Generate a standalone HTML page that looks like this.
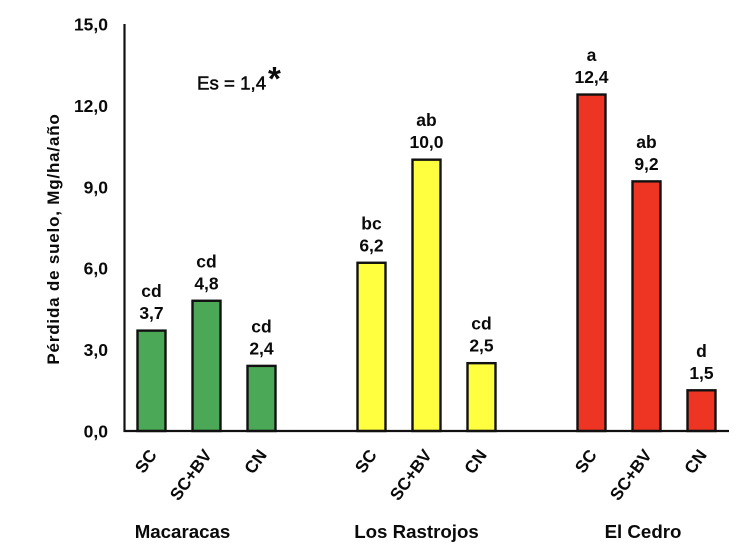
<!DOCTYPE html>
<html lang="es">
<head>
<meta charset="utf-8">
<title>Pérdida de suelo</title>
<style>
html,body{margin:0;padding:0;background:#fff;}
svg{display:block;}
text{font-family:"Liberation Sans",sans-serif;font-weight:bold;fill:#0a0a0a;}
</style>
</head>
<body>
<svg id="chart" xmlns="http://www.w3.org/2000/svg" width="750" height="551" viewBox="0 0 750 551">
<g id="root" style="filter:blur(0.3px)"></g>
</svg>
<script>
const sites = ["Macaracas", "Los Rastrojos", "El Cedro"];
const treatments = ["SC", "SC+BV", "CN"];
const siteColors = ["#4aa857", "#ffff40", "#ee3524"];
const values = [3.7, 4.8, 2.4, 6.2, 10.0, 2.5, 12.4, 9.2, 1.5];
const letters = ["cd", "cd", "cd", "bc", "ab", "cd", "a", "ab", "d"];
const yTicks = [0, 3, 6, 9, 12, 15];

const NS = "http://www.w3.org/2000/svg";
const root = document.getElementById("root");
const plot = {left: 124.5, right: 729, top: 24, bottom: 431};
const yMax = 15;
const slot = 55;
const barW = 28;

function y(v) { return plot.bottom - (v / yMax) * (plot.bottom - plot.top); }
function x(i) {
  const group = Math.floor(i / treatments.length);
  return plot.left + 27 + slot * (i + group);
}
function fmt(v) { return v.toFixed(1).replace(".", ","); }
function add(tag, attrs, text) {
  const el = document.createElementNS(NS, tag);
  for (const k in attrs) el.setAttribute(k, attrs[k]);
  if (text !== undefined) el.textContent = text;
  root.appendChild(el);
  return el;
}

yTicks.forEach(function (t) {
  const el = add("text", {x: 108, y: y(t) + 6.5, "text-anchor": "end", "font-size": 17.5}, fmt(t));
  
  
});

const yTitle = add("text", {x: 0, y: 0, "text-anchor": "middle", "font-size": 17, "letter-spacing": 0.8, transform: "translate(59,239) rotate(-90)"}, "Pérdida de suelo, Mg/ha/año");



values.forEach(function (v, i) {
  const cx = x(i);
  const group = Math.floor(i / treatments.length);
  const bar = add("rect", {x: cx - barW / 2, y: y(v), width: barW, height: plot.bottom - y(v), fill: siteColors[group], stroke: "#111", "stroke-width": 2.4});
  
  

  const val = add("text", {x: cx, y: y(v) - 11.5, "text-anchor": "middle", "font-size": 17.5}, fmt(v));
  
  

  const let1 = add("text", {x: cx, y: y(v) - 33.5, "text-anchor": "middle", "font-size": 17.5}, letters[i]);
  
  

  const tname = treatments[i % treatments.length];
  const cat = add("text", {x: 0, y: 0, "text-anchor": "end", "font-size": 17.2, transform: "translate(" + (cx + 6) + ",455) rotate(-54)"}, tname);
  
  
});

sites.forEach(function (s, g) {
  const mid = x(g * treatments.length + 1);
  const el = add("text", {x: mid + [-24, -10, -3.5][g], y: 538, "text-anchor": "middle", "font-size": 18.7}, s);
  
  
});

const yAxis = add("line", {x1: plot.left, x2: plot.left, y1: plot.top, y2: plot.bottom + 1, stroke: "#111", "stroke-width": 2.2});



const xAxis = add("line", {x1: plot.left - 1, x2: plot.right, y1: plot.bottom, y2: plot.bottom, stroke: "#111", "stroke-width": 2.2});



const es = add("text", {x: 197, y: 89.5, "font-size": 18.7, style: "font-weight:normal;stroke:#0a0a0a;stroke-width:0.5"}, "Es = 1,4");



const star = add("text", {x: 268, y: 90, "font-size": 33}, "*");


</script>
</body>
</html>
